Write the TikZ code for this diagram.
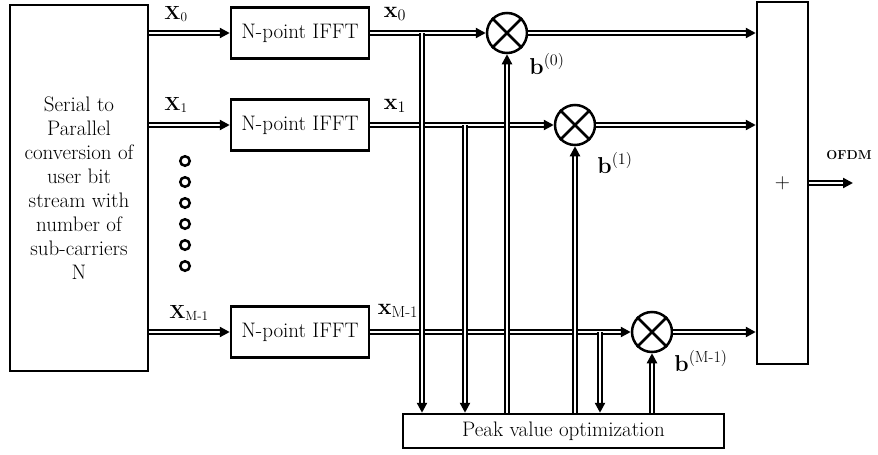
\RequirePackage{fix-cm}
\documentclass[tikz,border=0pt]{standalone}
\usepackage{amsmath}
\usetikzlibrary{arrows.meta}
\tikzset{
  blk/.style={draw, line width=2.5pt, inner sep=0pt, align=center, font=\fontsize{21}{24}\selectfont},
  mult/.style={draw, circle, line width=2.5pt, minimum size=40pt, inner sep=0pt},
  sig/.style={double, line width=2.3pt, double distance=1.5pt, -{Triangle[length=10pt,width=10pt]}},
  ring/.style={draw, circle, line width=2.5pt, minimum size=9.5pt, inner sep=0pt},
  lbl/.style={font=\fontsize{19}{22}\selectfont},
  lbs/.style={font=\fontsize{23}{26}\selectfont},
}
\begin{document}
\begin{tikzpicture}[x=1pt,y=-1pt]
  \useasboundingbox (0,0) rectangle (878,455);
  % blocks
  \node[blk, minimum width=138pt, minimum height=366pt] (sp) at (79,188)
    {Serial to\\Parallel\\conversion of\\user bit\\stream with\\number of\\sub-carriers\\N};
  \node[blk, minimum width=138pt, minimum height=51pt] (ifft0) at (300,33) {N-point IFFT};
  \node[blk, minimum width=138pt, minimum height=51pt] (ifft1) at (300,125) {N-point IFFT};
  \node[blk, minimum width=138pt, minimum height=51pt] (ifft2) at (300,332) {N-point IFFT};
  \node[blk, minimum width=321pt, minimum height=34pt] (peak) at (563.5,431) {Peak value optimization};
  \node[blk, minimum width=51pt, minimum height=362pt] (sum) at (782.5,183) {+};
  \node[mult] (mult0) at (507,33) {};
  \node[mult] (mult1) at (575,125) {};
  \node[mult] (mult2) at (652,332) {};
  \foreach \m in {mult0,mult1,mult2}
    \draw[line width=2.5pt] (\m.north west) -- (\m.south east) (\m.north east) -- (\m.south west);
  % dots
  \foreach \y in {161,182,...,266}
    \node[ring] at (185,\y) {};
  % labels
  \node[lbl] (X0) at (176,14) {$\mathbf{X}_0$};
  \node[lbl] (X1) at (176,105) {$\mathbf{X}_1$};
  \node[lbl] (X2) at (189,313) {$\mathbf{X}_{\text{M-1}}$};
  \node[lbs] (x0) at (395,14) {$\mathbf{x}_0$};
  \node[lbs] (x1) at (395,106) {$\mathbf{x}_1$};
  \node[lbs] (x2) at (398,311) {$\mathbf{x}_{\text{M-1}}$};
  \node[lbs] (b0) at (547,64) {$\mathbf{b}^{(0)}$};
  \node[lbs] (b1) at (615,163) {$\mathbf{b}^{(1)}$};
  \node[lbs] (b2) at (701,361) {$\mathbf{b}^{(\text{M-1})}$};
  \node[font=\bfseries\fontsize{13}{15}\selectfont] (ofdm) at (849,155) {OFDM};
  % signal paths
  \foreach \i in {0,1,2} {
    \draw[sig] (sp.east |- ifft\i) -- (ifft\i.west);
    \draw[sig] (ifft\i.east) -- (mult\i.west);
    \draw[sig] (mult\i.east) -- (mult\i.east -| sum.west);
  }
  \coordinate (t0) at (422,33);
  \coordinate (t1) at (465,125);
  \coordinate (t2) at (600,332);
  \foreach \t in {t0,t1,t2}
    \draw[sig] (\t) -- (\t |- peak.north);
  \foreach \m in {mult0,mult1,mult2}
    \draw[sig] (\m |- peak.north) -- (\m.south);
  \coordinate (out) at (853,183);
  \draw[sig] (sum.east) -- (out);
\end{tikzpicture}
\end{document}
